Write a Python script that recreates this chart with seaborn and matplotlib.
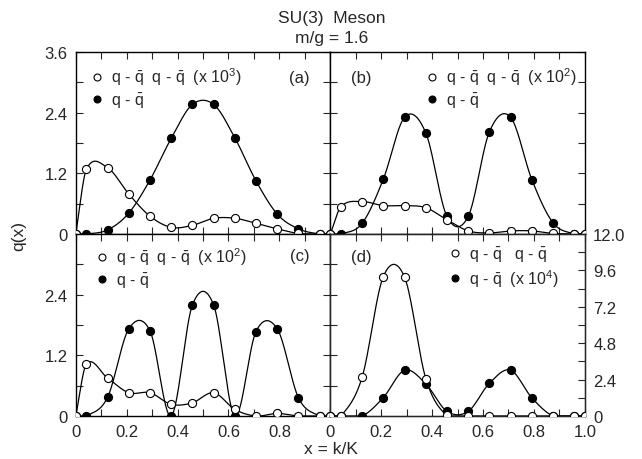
import numpy as np
import pandas as pd
import seaborn as sns
import matplotlib
matplotlib.use("Agg")
import matplotlib.pyplot as plt
from matplotlib.lines import Line2D
from matplotlib.ticker import MultipleLocator, FixedLocator, NullFormatter

# k/K sample positions
x_pos = [0.0, 0.042, 0.125, 0.208, 0.292, 0.375, 0.458, 0.542,
         0.625, 0.708, 0.792, 0.875, 0.958, 1.0]

# panel (a)
a_open = [0, 1.28, 1.31, 0.79, 0.35, 0.13, 0.17, 0.31, 0.31, 0.21, 0.10, 0.01, 0, 0]
a_fill = [0, 0, 0.08, 0.41, 1.07, 1.89, 2.56, 2.56, 1.90, 1.05, 0.39, 0.10, 0, 0]
# panel (b)
b_open = [0, 0.54, 0.64, 0.56, 0.56, 0.52, 0.28, 0.06, 0.02, 0.06, 0.06, 0.01, 0, 0]
b_fill = [0, 0, 0.21, 1.08, 2.31, 2.00, 0.35, 0.35, 2.02, 2.31, 1.07, 0.22, 0, 0]
# panel (c)
c_open = [0, 1.03, 0.75, 0.46, 0.46, 0.23, 0.26, 0.46, 0.13, 0, 0.05, 0, 0, 0]
c_fill = [0, 0, 0.37, 1.72, 1.68, 0, 2.19, 2.19, 0, 1.67, 1.72, 0.36, 0, 0]
# panel (d), right hand scale
d_open = [0, 0, 2.56, 9.18, 9.14, 2.47, 0.04, 0, 0, 0, 0, 0, 0, 0]
d_fill = [0, 0, 0, 1.21, 3.02, 2.12, 0.31, 0.31, 2.16, 3.02, 1.19, 0, 0, 0]

QQ = r"q - $\bar{\mathrm{q}}$"
labels = {
    "a": (QQ + "  " + QQ + "  (x 10$^3$)", QQ),
    "b": (QQ + "  " + QQ + "  (x 10$^2$)", QQ),
    "c": (QQ + "  " + QQ + "  (x 10$^2$)", QQ),
    "d": (QQ + "   " + QQ, QQ + "  (x 10$^4$)"),
}


def smooth(x, y, n=30):
    # Catmull-Rom style cubic Hermite curve through the points
    x = np.asarray(x, float)
    y = np.asarray(y, float)
    m = np.zeros_like(y)
    m[1:-1] = (y[2:] - y[:-2]) / (x[2:] - x[:-2])
    m[0] = (y[1] - y[0]) / (x[1] - x[0])
    m[-1] = (y[-1] - y[-2]) / (x[-1] - x[-2])
    xs, ys = [], []
    for i in range(len(x) - 1):
        h = x[i + 1] - x[i]
        t = np.linspace(0, 1, n, endpoint=False)
        h00 = 2 * t**3 - 3 * t**2 + 1
        h10 = t**3 - 2 * t**2 + t
        h01 = -2 * t**3 + 3 * t**2
        h11 = t**3 - t**2
        xs.append(x[i] + t * h)
        ys.append(h00 * y[i] + h10 * h * m[i] + h01 * y[i + 1] + h11 * h * m[i + 1])
    xs.append([x[-1]])
    ys.append([y[-1]])
    return np.concatenate(xs), np.clip(np.concatenate(ys), 0, None)


def draw_series(ax, y_open, y_fill):
    for vals, face, z in [(y_fill, "black", 3), (y_open, "white", 4)]:
        sx, sy = smooth(x_pos, vals)
        sns.lineplot(x=sx, y=sy, ax=ax, color="black", lw=0.9,
                     sort=False, estimator=None, zorder=2)
        sns.scatterplot(x=x_pos, y=vals, ax=ax, color=face, edgecolor="black",
                        s=34, linewidth=0.8, zorder=z)


def add_legend(ax, lab, anchor):
    handles = [
        Line2D([], [], ls="none", marker="o", ms=5, mfc="white", mec="black", mew=0.8),
        Line2D([], [], ls="none", marker="o", ms=5, mfc="black", mec="black", mew=0.8),
    ]
    ax.legend(handles, lab, loc="upper left", bbox_to_anchor=anchor, frameon=False,
              fontsize=11.5, handlelength=0.6, handletextpad=0.6, borderpad=0,
              borderaxespad=0, labelspacing=0.2)


def style_axis(ax, xlabels, ylabels):
    ax.set_xlim(0, 1.0)
    ax.set_ylim(0, 3.6)
    ax.xaxis.set_major_locator(FixedLocator(xlabels))
    ax.xaxis.set_minor_locator(MultipleLocator(0.1))
    ax.yaxis.set_major_locator(FixedLocator(ylabels))
    ax.yaxis.set_minor_locator(MultipleLocator(0.6))
    ax.tick_params(which="both", direction="in", length=5, width=0.8,
                   top=True, right=True, labelsize=12, pad=6)
    ax.set_xlabel("")
    ax.set_ylabel("")
    for s in ax.spines.values():
        s.set_linewidth(1.0)
        s.set_color("black")


def main():
    sns.set_style("ticks")
    plt.rcParams["font.family"] = ["Liberation Sans", "DejaVu Sans"]
    plt.rcParams["mathtext.fontset"] = "custom"
    plt.rcParams["mathtext.rm"] = "Liberation Sans"
    plt.rcParams["mathtext.it"] = "Liberation Sans:italic"

    fig = plt.figure(figsize=(6.42, 4.60), dpi=100)
    gs = fig.add_gridspec(2, 2, left=0.118, right=0.911, top=0.885, bottom=0.0935,
                          hspace=0, wspace=0)
    ax_a = fig.add_subplot(gs[0, 0])
    ax_b = fig.add_subplot(gs[0, 1])
    ax_c = fig.add_subplot(gs[1, 0])
    ax_d = fig.add_subplot(gs[1, 1])

    draw_series(ax_a, a_open, a_fill)
    draw_series(ax_b, b_open, b_fill)
    draw_series(ax_c, c_open, c_fill)

    style_axis(ax_a, [0, 0.2, 0.4, 0.6, 0.8, 1.0], [0, 1.2, 2.4, 3.6])
    ax_a.xaxis.set_major_formatter(NullFormatter())
    ax_a.set_yticklabels(["0", "1.2", "2.4", "3.6"])

    style_axis(ax_b, [0, 0.2, 0.4, 0.6, 0.8, 1.0], [0, 1.2, 2.4, 3.6])
    ax_b.xaxis.set_major_formatter(NullFormatter())
    ax_b.yaxis.set_major_formatter(NullFormatter())

    style_axis(ax_c, [0, 0.2, 0.4, 0.6, 0.8], [0, 1.2, 2.4])
    ax_c.set_xticklabels(["0", "0.2", "0.4", "0.6", "0.8"])
    ax_c.set_yticklabels(["0", "1.2", "2.4"])

    style_axis(ax_d, [0, 0.2, 0.4, 0.6, 0.8, 1.0], [0, 1.2, 2.4])
    ax_d.set_xticklabels(["0", "0.2", "0.4", "0.6", "0.8", "1.0"])
    ax_d.yaxis.set_major_formatter(NullFormatter())
    ax_d.tick_params(which="both", right=False)

    ax_r = ax_d.twinx()
    draw_series(ax_r, d_open, d_fill)
    ax_r.set_xlim(0, 1.0)
    ax_r.set_ylim(0, 12.0)
    ax_r.yaxis.set_major_locator(FixedLocator([0, 2.4, 4.8, 7.2, 9.6, 12.0]))
    ax_r.yaxis.set_minor_locator(MultipleLocator(1.2))
    ax_r.set_yticklabels(["0", "2.4", "4.8", "7.2", "9.6", "12.0"])
    ax_r.tick_params(which="both", direction="in", length=5, width=0.8,
                     labelsize=12, pad=6)
    ax_r.set_ylabel("")

    add_legend(ax_a, labels["a"], (0.063, 0.925))
    add_legend(ax_b, labels["b"], (0.38, 0.925))
    add_legend(ax_c, labels["c"], (0.083, 0.935))
    add_legend(ax_r, labels["d"], (0.47, 0.94))

    ax_a.text(0.88, 0.86, "(a)", transform=ax_a.transAxes, ha="center", va="center", fontsize=12)
    ax_b.text(0.12, 0.86, "(b)", transform=ax_b.transAxes, ha="center", va="center", fontsize=12)
    ax_c.text(0.88, 0.88, "(c)", transform=ax_c.transAxes, ha="center", va="center", fontsize=12)
    ax_r.text(0.12, 0.875, "(d)", transform=ax_r.transAxes, ha="center", va="center", fontsize=12)

    fig.text(0.516, 1 - 18 / 460, "SU(3)  Meson", ha="center", va="center", fontsize=12.5)
    fig.text(0.516, 1 - 39 / 460, "m/g = 1.6", ha="center", va="center", fontsize=12.5)
    fig.text(0.516, 1 - 450 / 460, "x = k/K", ha="center", va="center", fontsize=12.5)
    fig.text(19 / 642, 1 - 236 / 460, "q(x)", ha="center", va="center", rotation=90, fontsize=12.5)

    fig.savefig("out.png", dpi=100)


if __name__ == "__main__":
    main()
